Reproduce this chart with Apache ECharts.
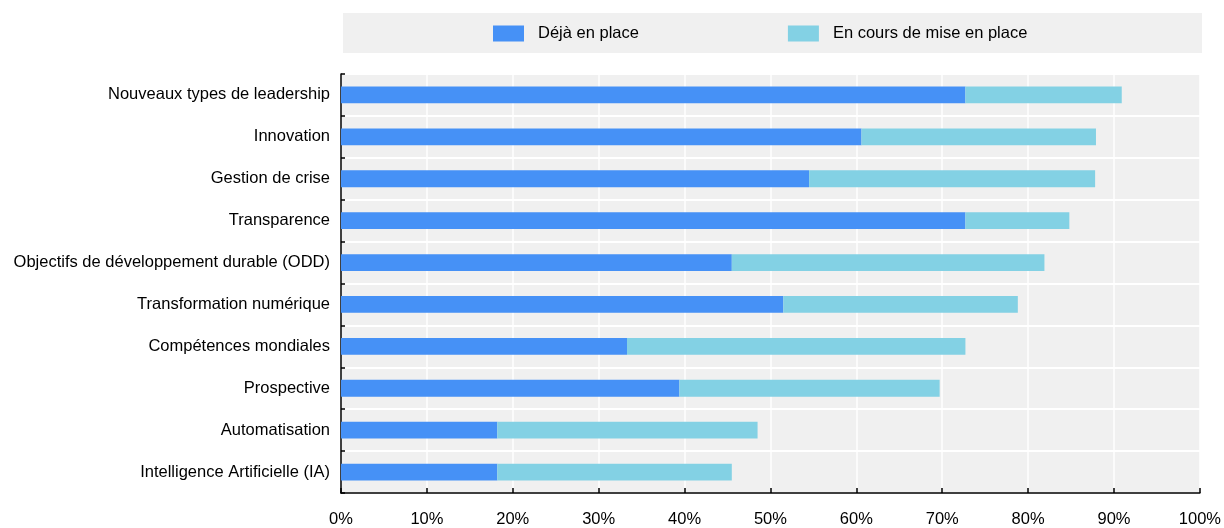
<!DOCTYPE html>
<html>
<head>
<meta charset="utf-8">
<script src="https://cdn.jsdelivr.net/npm/echarts@6/dist/echarts.min.js"></script>
<style>
  html, body { margin: 0; padding: 0; background: #ffffff; }
  #chart { width: 1224px; height: 528px; }
</style>
</head>
<body>
<div id="chart"></div>
<script>
// Categories, top to bottom
const categories = [
  'Nouveaux types de leadership',
  'Innovation',
  'Gestion de crise',
  'Transparence',
  'Objectifs de développement durable (ODD)',
  'Transformation numérique',
  'Compétences mondiales',
  'Prospective',
  'Automatisation',
  'Intelligence Artificielle (IA)'
];

// Share of respondents (%) — already in place
const dejaEnPlace = [72.7, 60.6, 54.5, 72.7, 45.5, 51.5, 33.3, 39.4, 18.2, 18.2];
// Share of respondents (%) — being put in place (stacked on top)
const enCours = [18.2, 27.3, 33.3, 12.1, 36.4, 27.3, 39.4, 30.3, 30.3, 27.3];

const seriesNames = ['Déjà en place', 'En cours de mise en place'];
const xTicks = [0, 10, 20, 30, 40, 50, 60, 70, 80, 90, 100];

const FONT = '"Liberation Sans", Arial, sans-serif';
const BLUE = '#4691f6';
const LIGHT = '#83d1e4';

const chart = echarts.init(document.getElementById('chart'), null, { renderer: 'canvas' });

chart.setOption({
  animation: false,
  backgroundColor: '#ffffff',
  graphic: [{
    type: 'rect',
    left: 343, top: 13,
    shape: { width: 859, height: 40 },
    style: { fill: '#f0f0f0' },
    z: -10
  }],
  legend: {
    data: seriesNames,
    left: 493,
    top: 25,
    itemWidth: 31,
    itemHeight: 16,
    itemGap: 149,
    icon: 'rect',
    padding: 0,
    textStyle: {
      fontFamily: FONT,
      fontSize: 16.5,
      color: '#000',
      padding: [6, 0, 0, 9]
    }
  },
  grid: {
    left: 341,
    right: 24,
    top: 74,
    bottom: 34,
    show: true,
    backgroundColor: '#f0f0f0',
    borderWidth: 0,
    containLabel: false
  },
  xAxis: {
    type: 'value',
    min: xTicks[0],
    max: xTicks[xTicks.length - 1],
    interval: 10,
    axisLine: { show: true, lineStyle: { color: '#000', width: 1.5 } },
    axisTick: { show: true, inside: true, length: 5, lineStyle: { color: '#000', width: 1.5 } },
    axisLabel: {
      formatter: v => v + '%',
      fontFamily: FONT,
      fontSize: 16.5,
      color: '#000',
      margin: 18
    },
    splitLine: { show: true, lineStyle: { color: '#ffffff', width: 1.5 } }
  },
  yAxis: {
    type: 'category',
    data: categories,
    inverse: true,
    axisLine: { show: true, lineStyle: { color: '#000', width: 1.5 } },
    axisTick: { show: true, inside: true, length: 4, lineStyle: { color: '#000', width: 1.5 } },
    axisLabel: {
      fontFamily: FONT,
      fontSize: 16.5,
      color: '#000',
      margin: 11,
      padding: [6, 0, 0, 0]
    },
    splitLine: { show: true, lineStyle: { color: '#ffffff', width: 2 } }
  },
  series: [
    {
      name: seriesNames[0],
      type: 'bar',
      stack: 'total',
      data: dejaEnPlace,
      barWidth: '40%',
      itemStyle: { color: BLUE }
    },
    {
      name: seriesNames[1],
      type: 'bar',
      stack: 'total',
      data: enCours,
      barWidth: '40%',
      itemStyle: { color: LIGHT }
    }
  ]
});
</script>
</body>
</html>
